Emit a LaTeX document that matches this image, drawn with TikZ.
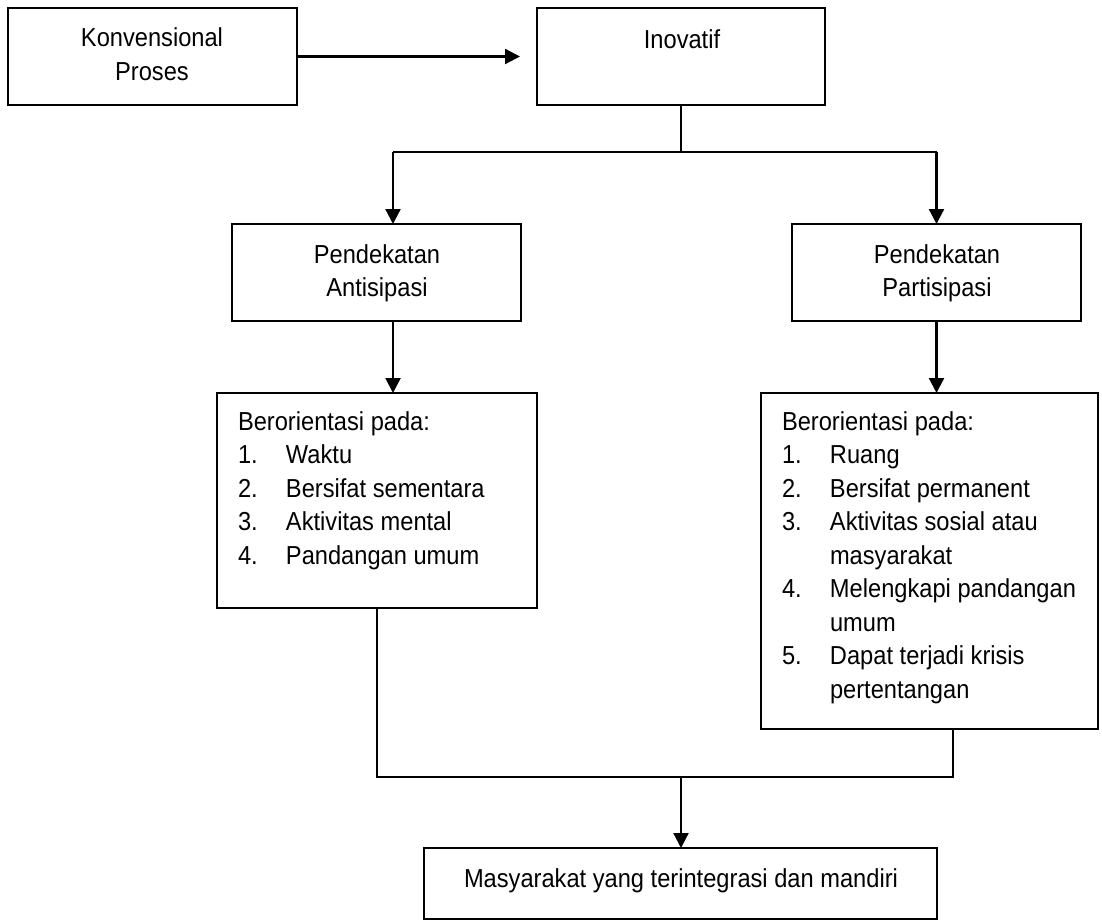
\documentclass[tikz,border=0pt]{standalone}
\usepackage{fontspec}
\setmainfont{Liberation Sans}[FakeStretch=0.91]
\usetikzlibrary{arrows.meta}
\begin{document}
\begin{tikzpicture}[x=1pt,y=-1pt,
  box/.style={draw, line width=1.5pt, rectangle, inner sep=0pt, outer sep=0pt},
  txt/.style={inner sep=0pt, outer sep=0pt, font=\fontsize{26}{33.5}\selectfont},
  arr/.style={line width=2.2pt, -{Triangle[length=15pt,width=15pt]}},
  ln/.style={line width=1.5pt}]
\fill[white] (0,0) rectangle (1102,920);
\useasboundingbox (0,0) rectangle (1102,920);

% boxes
\node[box, minimum width=289pt, minimum height=97pt] (konv) at (152.5,56.5) {};
\node[box, minimum width=288pt, minimum height=97pt] (inov) at (681,56.5) {};
\node[box, minimum width=289pt, minimum height=97pt] (pendA) at (376.5,272.5) {};
\node[box, minimum width=289pt, minimum height=97pt] (pendP) at (936.5,272.5) {};
\node[box, minimum width=320pt, minimum height=215pt] (berA) at (377,500.5) {};
\node[box, minimum width=337pt, minimum height=336pt] (berP) at (929.5,561) {};
\node[box, minimum width=513pt, minimum height=71pt] (akhir) at (680.5,883.5) {};

% texts
\node[txt, anchor=base] (tkonv) at (152,47) {\begin{tabular}[t]{@{}c@{}}Konvensional\\Proses\end{tabular}};
\node[txt, anchor=base] (tinov) at (682,49) {Inovatif};
\node[txt, anchor=base] (tpendA) at (377,263) {\begin{tabular}[t]{@{}c@{}}Pendekatan\\Antisipasi\end{tabular}};
\node[txt, anchor=base] (tpendP) at (937,263) {\begin{tabular}[t]{@{}c@{}}Pendekatan\\Partisipasi\end{tabular}};
\node[txt, anchor=base west] (tberA) at (238,430) {\begin{tabular}[t]{@{}p{48pt}@{}l@{}}
\multicolumn{2}{@{}l@{}}{Berorientasi pada:}\\
1. & Waktu\\
2. & Bersifat sementara\\
3. & Aktivitas mental\\
4. & Pandangan umum
\end{tabular}};
\node[txt, anchor=base west] (tberP) at (782,430) {\begin{tabular}[t]{@{}p{48pt}@{}l@{}}
\multicolumn{2}{@{}l@{}}{Berorientasi pada:}\\
1. & Ruang\\
2. & Bersifat permanent\\
3. & Aktivitas sosial atau\\
   & masyarakat\\
4. & Melengkapi pandangan\\
   & umum\\
5. & Dapat terjadi krisis\\
   & pertentangan
\end{tabular}};
\node[txt, anchor=base] (takhir) at (681,887) {Masyarakat yang terintegrasi dan mandiri};

% connectors
\coordinate (hub) at (681,152);
\coordinate (ax) at (393,152);
\coordinate (bx) at (953,777);
\coordinate (merge) at (681,777);

\draw[arr, shorten >=17pt] (konv.east) -- (inov.west);
\draw[ln] (inov.south) -- (hub);
\draw[ln] (ax) -- (hub -| pendP.north);
\draw[arr] (ax) -- (pendA.north -| ax);
\draw[arr] (hub -| pendP.north) -- (pendP.north);
\draw[arr] (pendA.south -| ax) -- (berA.north -| ax);
\draw[arr] (pendP.south) -- (berP.north -| pendP.south);
\draw[ln] (berA.south) |- (bx) -- (berP.south -| bx);
\draw[arr] (merge) -- (akhir.north -| merge);
\end{tikzpicture}
\end{document}
